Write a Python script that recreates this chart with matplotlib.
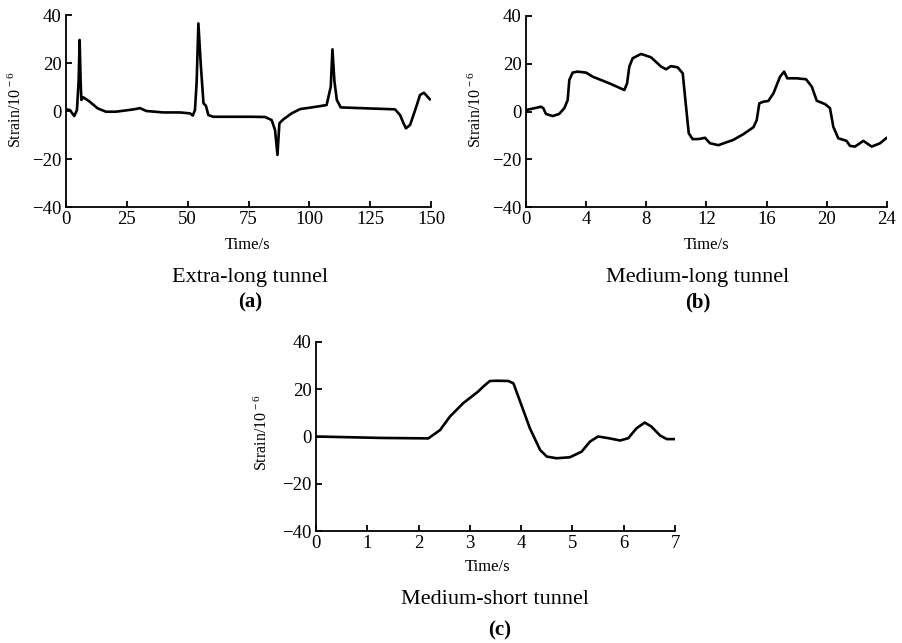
import matplotlib

matplotlib.use("Agg")
import matplotlib.pyplot as plt

# panel (a): extra-long tunnel
t_a = [0, 1.6, 3.4, 4.5, 5.2, 5.6, 6.0, 6.3, 7.1, 9.6, 13.0, 16.4, 20.5, 28, 30.4,
       33, 40, 46.9, 51.0, 52.1, 53.0, 53.7, 54.4, 55.4, 56.5, 57.5, 58.5, 60.5,
       67.4, 75.6, 81.8, 84.5, 85.9, 86.9, 87.7, 89.3, 92.7, 96.2, 103.0, 107.1,
       108.8, 109.5, 110.3, 111.3, 112.9, 123.6, 135.2, 137.3, 138.7, 139.7,
       141.4, 143.5, 145.5, 147.1, 149.6]
v_a = [0.7, 0.4, -2.1, 0.4, 12.9, 29.6, 12.9, 4.6, 5.7, 4.0, 1.1, -0.3, -0.3, 0.7, 1.2,
       0, -0.6, -0.6, -1.0, -1.9, 0.4, 12.2, 36.5, 19.2, 3.2, 2.2, -1.7, -2.4,
       -2.4, -2.4, -2.5, -3.75, -7.9, -18.3, -5.1, -3.5, -1.0, 0.8, 1.8, 2.5,
       10.1, 25.7, 12.5, 4.6, 1.5, 1.1, 0.7, -1.7, -5.1, -7.2,
       -5.8, 0.4, 6.7, 7.6, 4.8]

# panel (b): medium-long tunnel
t_b = [0, 1.0, 1.15, 1.33, 1.77, 2.2, 2.55, 2.77, 2.88, 3.1, 3.43, 3.99, 4.43, 5.54,
       6.54, 6.72, 6.87, 7.09, 7.65, 8.31, 8.98, 9.31, 9.64, 10.08, 10.42, 10.64,
       10.82, 11.08, 11.52, 11.9, 12.23, 12.79, 13.78, 14.45, 15.12, 15.34, 15.51,
       15.78, 16.11, 16.45, 16.89, 17.16, 17.37, 18.0, 18.62, 19.0, 19.33, 19.88,
       20.21, 20.43, 20.76, 21.31, 21.54, 21.87, 22.43, 22.98, 23.54, 23.98]
v_b = [0.6, 2.0, 1.4, -1.05, -1.9, -1.05, 1.4, 4.8, 13.2, 16.3, 16.7, 16.3, 14.6, 11.8,
       9.0, 11.8, 18.8, 22.3, 24.1, 22.7, 18.8, 17.7, 19.0, 18.5, 16.0, 2.0,
       -9.1, -11.6, -11.5, -11.0, -13.3, -14.1, -11.9, -9.5, -6.6, -3.6, 3.4,
       4.1, 4.4, 7.6, 14.6, 16.7, 13.9, 13.9, 13.5, 10.4, 4.5, 3.1,
       1.4, -6.4, -11.2, -12.3, -14.4, -14.7, -12.3, -14.7, -13.3, -11.0]

# panel (c): medium-short tunnel
t_c = [0, 1.25, 2.19, 2.42, 2.61, 2.87, 3.16, 3.26, 3.39, 3.52, 3.75, 3.85, 3.98,
       4.17, 4.37, 4.50, 4.69, 4.95, 5.18, 5.34, 5.50, 5.70, 5.93, 6.09, 6.25,
       6.41, 6.54, 6.71, 6.84, 7.0]
v_c = [0, -0.6, -0.8, 2.75, 8.4, 14.1, 19.0, 21.1, 23.5, 23.6, 23.5, 22.5, 14.8,
       3.5, -5.7, -8.5, -9.2, -8.8, -6.4, -2.2, 0, -0.7, -1.7, -0.7, 3.5,
       5.9, 4.2, 0.4, -1.1, -1.1]

panels = [
    dict(t=t_a, v=v_a, xticks=[0, 25, 50, 75, 100, 125, 150], xmax=150,
         rect=(66, 15, 431, 207), name="Extra-long tunnel", tag="(a)",
         xl=(248, 245), sub=(250, 277), lab=(250, 302), yl=(16, 110)),
    dict(t=t_b, v=v_b, xticks=[0, 4, 8, 12, 16, 20, 24], xmax=24,
         rect=(526, 16, 887, 207), name="Medium-long tunnel", tag="(b)",
         xl=(707, 245), sub=(698, 277), lab=(698, 302), yl=(476, 110)),
    dict(t=t_c, v=v_c, xticks=[0, 1, 2, 3, 4, 5, 6, 7], xmax=7,
         rect=(316, 342, 675, 531), name="Medium-short tunnel", tag="(c)",
         xl=(488, 567), sub=(495, 600), lab=(500, 630), yl=(262, 433)),
]

W, H = 903, 643
plt.rcParams["font.family"] = ["Liberation Serif", "DejaVu Serif"]
plt.rcParams["mathtext.fontset"] = "custom"
plt.rcParams["mathtext.rm"] = "Liberation Serif"
plt.rcParams["mathtext.it"] = "Liberation Serif:italic"

fig = plt.figure(figsize=(W / 100, H / 100), dpi=100)


def fx(px):
    return px / W


def fy(py):
    return 1 - py / H


for p in panels:
    x0, y0, x1, y1 = p["rect"]
    ax = fig.add_axes([fx(x0), fy(y1), (x1 - x0) / W, (y1 - y0) / H])
    ax.plot(p["t"], p["v"], color="black", linewidth=1.9,
            solid_joinstyle="round", solid_capstyle="round")
    ax.set_xlim(0, p["xmax"])
    ax.set_ylim(-40, 40)
    ax.set_xticks(p["xticks"])
    ax.set_yticks([-40, -20, 0, 20, 40])
    ax.set_yticklabels(["\u221240", "\u221220", "0", "20", "40"])
    ax.spines["top"].set_visible(False)
    ax.spines["right"].set_visible(False)
    for s in ("left", "bottom"):
        ax.spines[s].set_linewidth(1.3)
    ax.tick_params(direction="in", length=4, width=1.3, labelsize=13.5, pad=3)
    fig.text(fx(p["xl"][0]), fy(p["xl"][1]), "Time/s", ha="center", va="center",
             fontsize=12)
    fig.text(fx(p["yl"][0]), fy(p["yl"][1]), "Strain/10$^{\\,-6}$", ha="center",
             va="center", rotation=90, fontsize=11.5)
    fig.text(fx(p["sub"][0]), fy(p["sub"][1]), p["name"], ha="center", va="center",
             fontsize=16)
    fig.text(fx(p["lab"][0]), fy(p["lab"][1]), p["tag"], ha="center", va="center",
             fontsize=15, fontweight="bold")

fig.savefig("out.png", dpi=100)
